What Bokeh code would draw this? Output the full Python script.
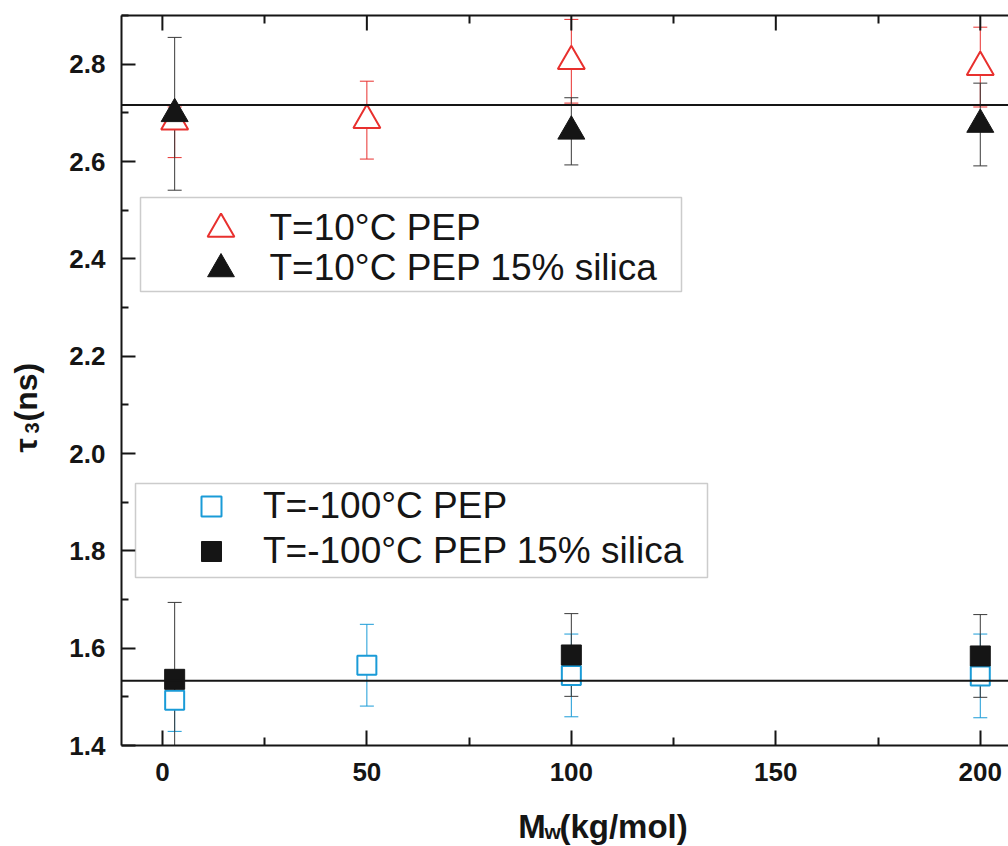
import math
import numpy as np
from bokeh.plotting import figure
from bokeh.layouts import row, column
from bokeh.models import (ColumnDataSource, Whisker, TeeHead, Span, Legend, LegendItem,
                          LinearAxis, FixedTicker, Range1d, BoxAnnotation, PrintfTickFormatter)
from bokeh.core.properties import value
from bokeh.embed import file_html
from bokeh.resources import INLINE

# ---------------- data ----------------
mw_red = [3, 50, 100, 200]                    # T=10°C PEP
tau_red = [2.682, 2.685, 2.806, 2.794]
err_red_up = [0.030, 0.080, 0.086, 0.082]
err_red_dn = [0.074, 0.080, 0.086, 0.082]

mw_blk_tri = [3, 100, 200]                    # T=10°C PEP 15% silica
tau_blk_tri = [2.698, 2.662, 2.676]
err_blk_tri_up = [0.157, 0.069, 0.085]
err_blk_tri_dn = [0.157, 0.069, 0.085]

mw_blue = [3, 50, 100, 200]                   # T=-100°C PEP
tau_blue = [1.493, 1.565, 1.544, 1.543]
err_blue_up = [0.040, 0.084, 0.085, 0.086]
err_blue_dn = [0.064, 0.084, 0.085, 0.086]

mw_blk_sq = [3, 100, 200]                     # T=-100°C PEP 15% silica
tau_blk_sq = [1.536, 1.586, 1.584]
err_blk_sq_up = [0.158, 0.085, 0.085]
err_blk_sq_dn = [0.158, 0.085, 0.085]

mean_lines = [2.716, 1.533]

x_ticks = [0, 50, 100, 150, 200]
x_minor = [25, 75, 125, 175]
y_ticks = [1.4, 1.6, 1.8, 2.0, 2.2, 2.4, 2.6, 2.8]
y_minor = [1.5, 1.7, 1.9, 2.1, 2.3, 2.5, 2.7, 2.9]

legend_top = ["T=10°C PEP", "T=10°C PEP 15% silica"]
legend_bottom = ["T=-100°C PEP", "T=-100°C PEP 15% silica"]

x_title = ["M", "w", "(kg/mol)"]
y_title = ["τ", "3", "(ns)"]

X_RANGE = (-10, 206.9)
Y_RANGE = (1.4, 2.9)

RED = "#e8302e"
BLUE = "#1a9bd7"
BLACK = "#151515"
BAR_BLACK = "#3a3a3a"
FONT = "Liberation Sans"

LEFT_W = 60
TOTAL_W = 1008
MAIN_H = 800
TOTAL_H = 846


def helper(width, height, xr, yr):
    f = figure(width=width, height=height, x_range=Range1d(*xr), y_range=Range1d(*yr),
               output_backend="svg", toolbar_location=None,
               x_axis_location=None, y_axis_location=None,
               min_border=0, min_border_left=0, min_border_right=0,
               min_border_top=0, min_border_bottom=0)
    f.grid.visible = False
    f.outline_line_color = None
    f.background_fill_color = "white"
    f.border_fill_color = "white"
    return f


# ---------------- main figure ----------------
p = figure(width=TOTAL_W - LEFT_W, height=MAIN_H, x_range=Range1d(*X_RANGE),
           y_range=Range1d(*Y_RANGE), output_backend="svg", toolbar_location=None,
           min_border_left=121 - LEFT_W, min_border_right=0, min_border_top=15,
           min_border_bottom=MAIN_H - 745)
p.grid.visible = False
p.outline_line_color = None
p.background_fill_color = "white"
p.border_fill_color = "white"


def style_axis(ax, tin, tmin):
    ax.axis_line_width = 2
    ax.axis_line_color = BLACK
    ax.major_tick_line_width = 2
    ax.minor_tick_line_width = 2
    ax.major_tick_line_color = BLACK
    ax.minor_tick_line_color = BLACK
    ax.major_tick_in = tin
    ax.major_tick_out = 0
    ax.minor_tick_in = tmin
    ax.minor_tick_out = 0
    ax.major_label_text_font = FONT
    ax.major_label_text_font_style = "bold"
    ax.major_label_text_font_size = "26px"
    ax.major_label_text_color = BLACK
    ax.axis_label = None


xa = p.xaxis[0]
xa.ticker = FixedTicker(ticks=x_ticks, minor_ticks=x_minor)
style_axis(xa, 15, 8)
xa.major_label_standoff = 17

ya = p.yaxis[0]
ya.ticker = FixedTicker(ticks=y_ticks, minor_ticks=y_minor)
ya.formatter = PrintfTickFormatter(format="%.1f")
style_axis(ya, 14, 7)
ya.major_label_standoff = 16

# top axis: line + minor ticks only (no labels); major ticks drawn as dashes
top = LinearAxis(ticker=FixedTicker(ticks=[], minor_ticks=x_minor))
style_axis(top, 15, 8)
p.add_layout(top, "above")
p.scatter(x=x_ticks, y=[Y_RANGE[1]] * len(x_ticks), marker="dash", angle=math.pi / 2,
          size=30, line_color=BLACK, line_width=2)


def src(xs, ys, eu, ed):
    ys = np.array(ys)
    return ColumnDataSource(dict(x=xs, y=list(ys), upper=list(ys + np.array(eu)),
                                 lower=list(ys - np.array(ed))))


def whisker(s, color):
    return Whisker(source=s, base="x", upper="upper", lower="lower", dimension="height",
                   line_color=color, line_width=1,
                   upper_head=TeeHead(size=14, line_color=color, line_width=1),
                   lower_head=TeeHead(size=14, line_color=color, line_width=1))


s_red = src(mw_red, tau_red, err_red_up, err_red_dn)
s_bt = src(mw_blk_tri, tau_blk_tri, err_blk_tri_up, err_blk_tri_dn)
s_blue = src(mw_blue, tau_blue, err_blue_up, err_blue_dn)
s_bs = src(mw_blk_sq, tau_blk_sq, err_blk_sq_up, err_blk_sq_dn)

p.add_layout(whisker(s_red, RED))
p.add_layout(whisker(s_blue, BLUE))
p.add_layout(whisker(s_bt, BAR_BLACK))
p.add_layout(whisker(s_bs, BAR_BLACK))

r_red = p.scatter("x", "y", source=s_red, marker="triangle", size=27,
                  line_color=RED, fill_color="white", line_width=2)
r_bt = p.scatter("x", "y", source=s_bt, marker="triangle", size=27,
                 line_color=BLACK, fill_color=BLACK, line_width=1)
r_blue = p.scatter("x", "y", source=s_blue, marker="square", size=19,
                   line_color=BLUE, fill_color="white", line_width=2)
r_bs = p.scatter("x", "y", source=s_bs, marker="square", size=20,
                 line_color=BLACK, fill_color=BLACK, line_width=1)

for v in mean_lines:
    p.add_layout(Span(location=v, dimension="width", line_color=BLACK, line_width=2))

# legend frames (frame-relative screen units)
p.add_layout(BoxAnnotation(left=19, right=560, top=548, bottom=454,
                           left_units="screen", right_units="screen",
                           top_units="screen", bottom_units="screen",
                           fill_color="white", fill_alpha=1.0,
                           line_color="#555555", line_width=1.5))
p.add_layout(BoxAnnotation(left=14, right=586, top=262, bottom=168,
                           left_units="screen", right_units="screen",
                           top_units="screen", bottom_units="screen",
                           fill_color="white", fill_alpha=1.0,
                           line_color="#555555", line_width=1.5))


def one_legend(label, rend, loc, gsize, standoff):
    return Legend(items=[LegendItem(label=label, renderers=[rend])],
                  location=loc, padding=0, margin=0, spacing=0,
                  glyph_width=gsize, glyph_height=gsize, label_standoff=standoff,
                  border_line_color=None, background_fill_alpha=0,
                  label_text_font=FONT, label_text_font_size="37px",
                  label_text_color=BLACK)


p.add_layout(one_legend(legend_top[0], r_red, (65.5, 483.5), 67, 16))
p.add_layout(one_legend(legend_top[1], r_bt, (65.5, 443.5), 67, 16))
p.add_layout(one_legend(legend_bottom[0], r_blue, (65, 214), 50, 27))
p.add_layout(one_legend(legend_bottom[1], r_bs, (65, 169), 50, 27))

# ---------------- y title (left strip, page pixel coordinates) ----------------
left = helper(LEFT_W, TOTAL_H, (0, LEFT_W), (TOTAL_H, 0))
left.text(x=[25], y=[452], text=[y_title[0]], angle=math.pi / 2,
          text_font=value(FONT), text_font_style="bold", text_font_size="32px",
          text_color=BLACK, text_align="left", text_baseline="alphabetic")
left.text(x=[31], y=[433], text=[y_title[1]], angle=math.pi / 2,
          text_font=value(FONT), text_font_style="bold", text_font_size="20px",
          text_color=BLACK, text_align="left", text_baseline="alphabetic")
left.text(x=[25], y=[421], text=[y_title[2]], angle=math.pi / 2,
          text_font=value(FONT), text_font_style="bold", text_font_size="32px",
          text_color=BLACK, text_align="left", text_baseline="alphabetic")

# ---------------- x title (bottom strip, page pixel coordinates) ----------------
bottom = helper(TOTAL_W - LEFT_W, TOTAL_H - MAIN_H, (LEFT_W, TOTAL_W), (TOTAL_H, MAIN_H))
bottom.text(x=[484], y=[826], text=[x_title[0]], text_font=value(FONT),
            text_font_style="bold", text_font_size="33px", text_color=BLACK,
            text_align="left", text_baseline="alphabetic")
bottom.text(x=[512], y=[831], text=[x_title[1]], text_font=value(FONT),
            text_font_style="bold", text_font_size="21px", text_color=BLACK,
            text_align="left", text_baseline="alphabetic")
bottom.text(x=[528], y=[826], text=[x_title[2]], text_font=value(FONT),
            text_font_style="bold", text_font_size="33px", text_color=BLACK,
            text_align="left", text_baseline="alphabetic")

layout = row(left, column(p, bottom, spacing=0), spacing=0)

open("out.html", "w").write(file_html(layout, INLINE))
